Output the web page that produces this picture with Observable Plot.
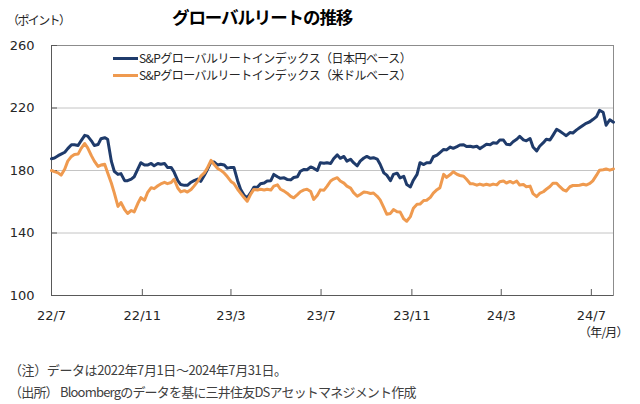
<!DOCTYPE html>
<html><head><meta charset="utf-8">
<script src="https://cdn.jsdelivr.net/npm/d3@7"></script>
<script src="https://cdn.jsdelivr.net/npm/@observablehq/plot@0.6"></script>
<style>
html,body{margin:0;padding:0;background:#fff;}
#wrap{position:relative;width:640px;height:404px;background:#fff;overflow:hidden;font-family:"Noto Sans CJK JP","Noto Sans",sans-serif;color:#262626;}
#chart{position:absolute;left:0;top:0;}
.abs{position:absolute;white-space:nowrap;line-height:1;}
.sw{position:absolute;height:3px;width:25px;}
</style></head>
<body>
<div id="wrap">
  <div id="chart"></div>
  <div class="abs" id="title" style="left:172px;top:8px;font-size:17.5px;font-weight:bold;letter-spacing:-1.1px;color:#000;"></div>
  <div class="abs" id="yunit" style="left:7px;top:14px;font-size:12px;letter-spacing:-1.6px;"></div>
  <div class="abs" id="xunit" style="left:579px;top:326px;font-size:12px;letter-spacing:-0.8px;"></div>
  <div class="sw" id="sw0" style="left:113px;top:57px;"></div>
  <div class="abs" id="lg0" style="left:139px;top:52px;font-size:12px;letter-spacing:-0.55px;"></div>
  <div class="sw" id="sw1" style="left:113px;top:74px;"></div>
  <div class="abs" id="lg1" style="left:139px;top:69px;font-size:12px;letter-spacing:-0.55px;"></div>
  <div class="abs" id="note0" style="left:9px;top:363px;font-size:13px;letter-spacing:-0.4px;color:#404040;"></div>
  <div class="abs" id="note1" style="left:9px;top:385px;font-size:13px;letter-spacing:-0.8px;color:#404040;"></div>
</div>
<script>
const titleText = "グローバルリートの推移";
const yUnit = "（ポイント）";
const xUnit = "（年/月）";
const seriesNames = ["S&Pグローバルリートインデックス（日本円ベース）", "S&Pグローバルリートインデックス（米ドルベース）"];
const seriesColors = ["#1f3b6b", "#ef9a4f"];
const notes = ["（注）データは2022年7月1日～2024年7月31日。", "（出所） Bloombergのデータを基に三井住友DSアセットマネジメント作成"];

const yTicks = [100, 140, 180, 220, 260];
const yGrid = [140, 180, 220];
const xTickDates = ["2022-07-01","2022-11-01","2023-03-01","2023-07-01","2023-11-01","2024-03-01","2024-07-01"];
const xTickLabels = ["22/7","22/11","23/3","23/7","23/11","24/3","24/7"];
const xDomain = ["2022-07-01","2024-07-31"];

const dates = [
"2022-07-01","2022-07-05","2022-07-10","2022-07-14","2022-07-19","2022-07-23","2022-07-28","2022-08-01","2022-08-06","2022-08-10",
"2022-08-15","2022-08-19","2022-08-24","2022-08-28","2022-09-02","2022-09-06","2022-09-11","2022-09-15","2022-09-20","2022-09-24",
"2022-09-29","2022-10-03","2022-10-08","2022-10-12","2022-10-17","2022-10-21","2022-10-26","2022-10-30","2022-11-04","2022-11-08",
"2022-11-13","2022-11-17","2022-11-22","2022-11-26","2022-12-01","2022-12-05","2022-12-10","2022-12-14","2022-12-19","2022-12-23",
"2022-12-28","2023-01-01","2023-01-06","2023-01-10","2023-01-15","2023-01-19","2023-01-24","2023-01-28","2023-02-02","2023-02-06",
"2023-02-11","2023-02-15","2023-02-20","2023-02-24","2023-03-01","2023-03-05","2023-03-10","2023-03-14","2023-03-19","2023-03-23",
"2023-03-28","2023-04-01","2023-04-06","2023-04-10","2023-04-15","2023-04-19","2023-04-24","2023-04-28","2023-05-03","2023-05-07",
"2023-05-12","2023-05-16","2023-05-21","2023-05-25","2023-05-30","2023-06-03","2023-06-08","2023-06-12","2023-06-17","2023-06-21",
"2023-06-26","2023-06-30","2023-07-05","2023-07-09","2023-07-14","2023-07-18","2023-07-23","2023-07-27","2023-08-01","2023-08-05",
"2023-08-10","2023-08-14","2023-08-19","2023-08-23","2023-08-28","2023-09-01","2023-09-06","2023-09-10","2023-09-15","2023-09-19",
"2023-09-24","2023-09-28","2023-10-03","2023-10-07","2023-10-12","2023-10-16","2023-10-21","2023-10-25","2023-10-30","2023-11-03",
"2023-11-08","2023-11-12","2023-11-17","2023-11-21","2023-11-26","2023-11-30","2023-12-05","2023-12-09","2023-12-14","2023-12-18",
"2023-12-23","2023-12-27","2024-01-01","2024-01-05","2024-01-10","2024-01-14","2024-01-19","2024-01-23","2024-01-28","2024-02-01",
"2024-02-06","2024-02-10","2024-02-15","2024-02-19","2024-02-24","2024-02-28","2024-03-04","2024-03-08","2024-03-13","2024-03-17",
"2024-03-22","2024-03-26","2024-03-31","2024-04-04","2024-04-09","2024-04-13","2024-04-18","2024-04-22","2024-04-27","2024-05-01",
"2024-05-06","2024-05-10","2024-05-15","2024-05-19","2024-05-24","2024-05-28","2024-06-02","2024-06-06","2024-06-11","2024-06-15",
"2024-06-20","2024-06-24","2024-06-29","2024-07-03","2024-07-08","2024-07-12","2024-07-17","2024-07-21","2024-07-26","2024-07-31"
];

const jpyValues = [
187.5,188,189.5,190.5,191.7,194,196.5,196.5,196,199,
202.5,202,199,196,196.6,200.3,201,200,186,179.5,
177.5,178,173.5,173.5,174.5,176,181,185,183.5,183.5,
184.5,183,184.5,184,184.5,182,182,179,173.5,171,
170.5,170.5,172.5,173.5,174.5,173,177,180.5,185.5,185.5,
183.5,184,183.5,181.5,182,182,173.5,168,164,162.5,
166,169.3,169.5,171.5,172,173.3,173.5,177.5,176,175,
175.3,174.3,174,175.5,176,179.5,180.7,180.5,182.3,181.5,
180,185,184.6,185,184.5,187.5,190,187.8,189,186,
187.2,185,183,186,188,189,187.8,188.2,187.3,184,
178.5,177,173.5,177.5,178.3,175.3,176.3,171,169.5,173.8,
177.5,185,183.8,185,185,188.8,189.8,191.5,193.5,193.2,
195,194.2,195.3,196.3,196.5,195.3,195.5,195,195.5,194,
195.5,196.8,196.5,197.8,197.5,199.5,199.5,196.8,196.5,198.4,
200,201.8,199.6,199,200.5,195,192.5,195.5,197.8,200,
199.5,202.5,206.4,205.3,203.6,202.3,204.3,204,206,207.3,
209,210.2,211.2,212.6,214.5,218.5,217.3,209,212.5,210.9
];

const usdValues = [
180,179.3,178.5,177,181,186,189,190.3,190.5,194,
197.3,194.5,189.5,186,182.6,183.5,184,178.5,172,165.7,
157,159.5,155,152.5,154.4,153.5,159,162.6,161,165.8,
169,168.4,170.2,171.4,172.4,171.6,172.3,174.4,168.8,166.3,
167.1,166.2,167.8,170,173,176.2,178.5,181.5,186.5,184,
181.3,180.2,178.3,176.1,173,171.7,168,165.5,162.5,160.3,
165,167.9,167.5,168,167.5,168,167.5,170,170.8,168,
166.8,165.5,163.4,162.5,164.6,166.4,167.6,168,166.5,161.5,
164.2,167.6,167.4,169.8,173.3,174.5,175.4,173.3,171.9,170,
168.7,165.8,163.5,164.7,166.3,166,165.3,165.6,163.5,161.2,
156.2,152,152.5,155,153.6,153.5,149,147.5,150.5,155.8,
158.4,158.5,160.8,161,162.8,165.5,167.7,169,177.5,175.6,
177.4,179.2,177.6,176.8,176.3,174.4,171.5,171.5,170.6,171.3,
170.6,171.2,170.6,171.3,170.8,172.8,173.3,172,173,172,
173.2,170.7,171,169.6,170,165.2,163.3,165.3,166.4,168,
169.8,171.8,171.8,169.8,167.6,166.9,169.6,170.4,170.4,170.6,
171.2,170.7,171.7,173.4,177,180.2,180.5,181,180.2,181
];

const parse = d3.utcParse("%Y-%m-%d");
const rows = [];
[jpyValues, usdValues].forEach((vals, s) => {
  dates.forEach((d, i) => rows.push({date: parse(d), value: vals[i], series: seriesNames[s]}));
});
const tickDates = xTickDates.map(parse);
const labelOf = new Map(tickDates.map((d, i) => [+d, xTickLabels[i]]));

const chart = Plot.plot({
  width: 640,
  height: 404,
  marginLeft: 51,
  marginRight: 27,
  marginTop: 45,
  marginBottom: 109,
  style: {fontFamily: "'DejaVu Sans', 'Noto Sans CJK JP', sans-serif", background: "transparent", color: "#262626"},
  x: {type: "utc", domain: xDomain.map(parse)},
  y: {domain: [100, 260]},
  color: {domain: seriesNames, range: seriesColors},
  marks: [
    Plot.gridY(yGrid, {stroke: "#c4c4c4", strokeOpacity: 1, strokeWidth: 1}),
    Plot.frame({stroke: "#8c8c8c"}),
    Plot.ruleY([100], {stroke: "#595959"}),
    Plot.ruleX([tickDates[0]], {stroke: "#595959"}),
    Plot.tickY(yTicks, {y: d => d, insetRight: 556, stroke: "#595959"}),
    Plot.tickX(tickDates.slice(1), {x: d => d, insetTop: 244, stroke: "#595959"}),
    Plot.axisY(yTicks, {tickSize: 0, tickPadding: 17, fontSize: 13, fill: "#262626", label: null}),
    Plot.axisX(tickDates, {tickSize: 0, tickPadding: 15, fontSize: 13, fill: "#262626", label: null, tickFormat: d => labelOf.get(+d)}),
    Plot.line(rows, {x: "date", y: "value", z: "series", stroke: "series", strokeWidth: 3, strokeLinejoin: "round"})
  ]
});
document.getElementById("chart").appendChild(chart);

document.getElementById("title").textContent = titleText;
document.getElementById("yunit").textContent = yUnit;
document.getElementById("xunit").textContent = xUnit;
document.getElementById("lg0").textContent = seriesNames[0];
document.getElementById("lg1").textContent = seriesNames[1];
document.getElementById("sw0").style.background = seriesColors[0];
document.getElementById("sw1").style.background = seriesColors[1];
document.getElementById("note0").textContent = notes[0];
document.getElementById("note1").textContent = notes[1];
</script>
</body></html>
